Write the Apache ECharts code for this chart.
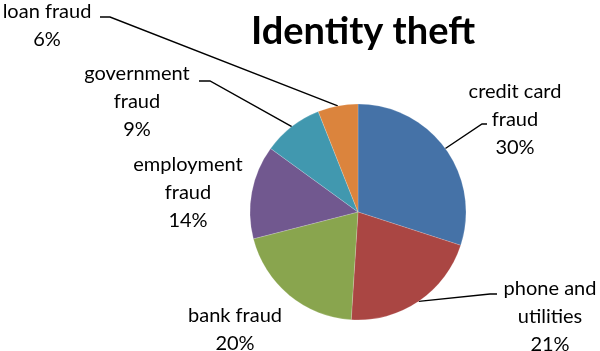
<!DOCTYPE html>
<html>
<head>
<meta charset="utf-8">
<script src="https://cdn.jsdelivr.net/npm/echarts@6/dist/echarts.min.js"></script>
<style>
html,body{margin:0;padding:0;background:#fff;}
#chart{width:600px;height:351px;}
</style>
</head>
<body>
<div id="chart"></div>
<script>
// ---- data ----
var categories = ['credit card\nfraud', 'phone and\nutilities', 'bank fraud', 'employment\nfraud', 'government\nfraud', 'loan fraud'];
var values = [30, 21, 20, 14, 9, 6];
var colors = ['#4572A7', '#AA4643', '#89A54E', '#71588F', '#4198AF', '#DB843D'];
var title = 'Identity theft';

// ---- label layout (positions of label text blocks) ----
var labelX = [515, 550, 235, 188, 137, 47];
var labelY = [120, 317, 330, 193, 102, 26];
var showLine = [true, true, false, false, true, true];
var lineYOffset = [4, -23, 0, 0, -21, -9];   // leader y relative to label centre
var lineEndDX = [-28, -53, 0, 0, 62, 53];    // leader end x relative to label centre
var elbowDX = [-33, -60, 0, 0, 73, 63];      // leader elbow x relative to label centre

var chart = echarts.init(document.getElementById('chart'));
var data = categories.map(function (c, i) {
  var d = { name: c, value: values[i], itemStyle: { color: colors[i] } };
  if (!showLine[i]) d.labelLine = { show: false };
  return d;
});

chart.setOption({
  animation: false,
  title: {
    text: title,
    left: 358,
    top: 8,
    textAlign: 'center',
    textStyle: { fontFamily: 'Lato', fontWeight: 'bold', fontSize: 38, color: '#000' }
  },
  series: [{
    type: 'pie',
    center: [358, 212],
    radius: 108,
    startAngle: 90,
    clockwise: true,
    itemStyle: { borderColor: 'rgba(255,255,255,0.35)', borderWidth: 0.5 },
    label: {
      show: true,
      position: 'outside',
      formatter: function (p) { return p.name + '\n' + p.percent.toFixed(0) + '%'; },
      fontFamily: 'Lato',
      fontSize: 20,
      lineHeight: 28,
      color: '#000',
      align: 'center'
    },
    labelLine: { show: true, lineStyle: { color: '#000', width: 1.4 }, smooth: false },
    emphasis: { disabled: true },
    data: data,
    labelLayout: function (p) {
      var i = p.dataIndex;
      var x = labelX[i], y = labelY[i];
      var res = { x: x, y: y, align: 'center', verticalAlign: 'middle' };
      if (showLine[i] && p.labelLinePoints) {
        var p0 = p.labelLinePoints[0];
        var ly = y + lineYOffset[i];
        res.labelLinePoints = [[p0[0], p0[1]], [x + elbowDX[i], ly], [x + lineEndDX[i], ly]];
      }
      return res;
    }
  }]
});
</script>
</body>
</html>
